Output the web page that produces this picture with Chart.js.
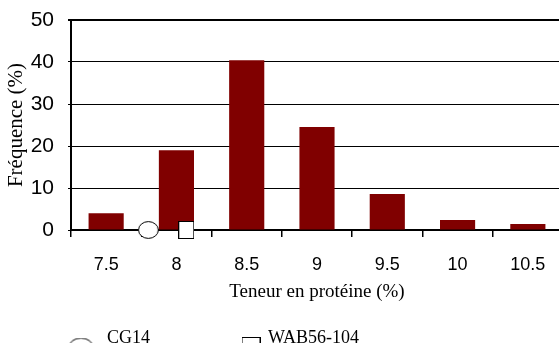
<!DOCTYPE html>
<html><head><meta charset="utf-8">
<script src="https://cdn.jsdelivr.net/npm/chart.js@4.4.1/dist/chart.umd.min.js"></script>
<style>
html,body{margin:0;padding:0;overflow:hidden;background:#fff;width:559px;height:343px}
#wrap{width:565px;height:343px;position:relative}
canvas{display:block}
</style></head><body>
<div id="wrap"><canvas id="c" width="565" height="343"></canvas></div>
<script>
// ---- data ----
const categories = ['7.5', '8', '8.5', '9', '9.5', '10', '10.5'];
const frequencies = [4.0, 19.0, 40.4, 24.5, 8.6, 2.4, 1.4];
const yTicks = [0, 10, 20, 30, 40, 50];
const markerNames = ['CG14', 'WAB56-104'];
const markerProtein = [7.8, 8.07];
const markerFreq = [0, 0];

// ---- marker images ----
function makeMarker(shape, w, h) {
  const c = document.createElement('canvas');
  c.width = w; c.height = h;
  const g = c.getContext('2d');
  g.fillStyle = '#fff'; g.strokeStyle = '#000'; g.lineWidth = 1;
  if (shape === 'ellipse') {
    g.beginPath(); g.ellipse(w / 2, h / 2, w / 2 - 0.6, h / 2 - 0.6, 0, 0, Math.PI * 2); g.fill(); g.stroke();
  } else {
    g.fillRect(0.5, 0.5, w - 1, h - 1); g.strokeRect(0.5, 0.5, w - 1, h - 1);
  }
  return c;
}
const plotMarkers = [makeMarker('ellipse', 21, 18), makeMarker('square', 16, 18)];
const legendMarkers = [makeMarker('ellipse', 25, 19), makeMarker('square', 19, 19)];

const serif = "'Liberation Serif','Times New Roman',serif";
const sans = "'Liberation Sans',Arial,sans-serif";

const markerLegend = {
  id: 'markerLegend',
  afterDraw(chart, args, opts) {
    const ctx = chart.ctx;
    ctx.save();
    ctx.font = '18px ' + serif;
    ctx.fillStyle = '#000';
    ctx.textBaseline = 'alphabetic';
    ctx.textAlign = 'left';
    let k = 0;
    chart.data.datasets.forEach(ds => {
      if (ds.type !== 'scatter') return;
      const p = opts.places[k];
      const img = legendMarkers[k];
      ctx.drawImage(img, p.x - img.width / 2, p.y - img.height / 2);
      ctx.fillText(ds.label, p.tx, p.ty);
      k++;
    });
    ctx.restore();
  }
};

const datasets = [{
  type: 'bar',
  label: 'Fréquence',
  data: frequencies,
  backgroundColor: '#800000',
  borderWidth: 0,
  barPercentage: 0.5,
  categoryPercentage: 1.0,
  grouped: false,
  xAxisID: 'x', yAxisID: 'y',
  order: 2
}];
markerNames.forEach((n, i) => {
  datasets.push({
    type: 'scatter',
    label: n,
    data: [{x: markerProtein[i], y: markerFreq[i]}],
    pointStyle: plotMarkers[i],
    pointRadius: 9,
    clip: false,
    xAxisID: 'xm', yAxisID: 'y',
    order: 0
  });
});

new Chart(document.getElementById('c'), {
  type: 'bar',
  data: {labels: categories, datasets},
  options: {
    responsive: false,
    devicePixelRatio: 1,
    animation: false,
    layout: {autoPadding: false, padding: {top: 20, right: 2, left: 0, bottom: 0}},
    plugins: {
      legend: {display: false},
      tooltip: {enabled: false},
      markerLegend: {places: [
        {x: 81, y: 347, tx: 107, ty: 343},
        {x: 251, y: 346.5, tx: 268, ty: 343}
      ]}
    },
    scales: {
      x: {
        type: 'category',
        offset: true,
        grid: {display: true, drawOnChartArea: false, drawTicks: true, tickLength: 7, color: '#000', lineWidth: 1.5, offset: true},
        border: {display: true, color: '#000', width: 2},
        ticks: {font: {family: sans, size: 18}, color: '#000', padding: 17, maxRotation: 0, autoSkip: false},
        title: {display: true, text: 'Teneur en protéine (%)', font: {family: serif, size: 19}, color: '#000', padding: {top: 0, bottom: 40}},
        afterFit: s => { s.height = 113; s.paddingLeft = 0; s.paddingRight = 0; }
      },
      xm: {
        type: 'linear', display: false, offset: false, min: 7.25, max: 10.75,
        grid: {offset: false}
      },
      y: {
        min: 0, max: 50,
        afterBuildTicks: s => { s.ticks = yTicks.map(v => ({value: v})); },
        grid: {color: '#000', lineWidth: c => (c.tick && c.tick.value === 50 ? 2 : 1), tickLength: 3},
        border: {display: true, color: '#000', width: 2},
        ticks: {font: {family: sans, size: 21}, color: '#000', padding: 14},
        title: {display: true, text: 'Fréquence (%)', font: {family: serif, size: 21}, color: '#000', padding: {top: 4, bottom: 0}},
        afterFit: s => { s.width = 71; s.paddingTop = 0; s.paddingBottom = 0; }
      }
    }
  },
  plugins: [markerLegend]
});
</script>
</body></html>
